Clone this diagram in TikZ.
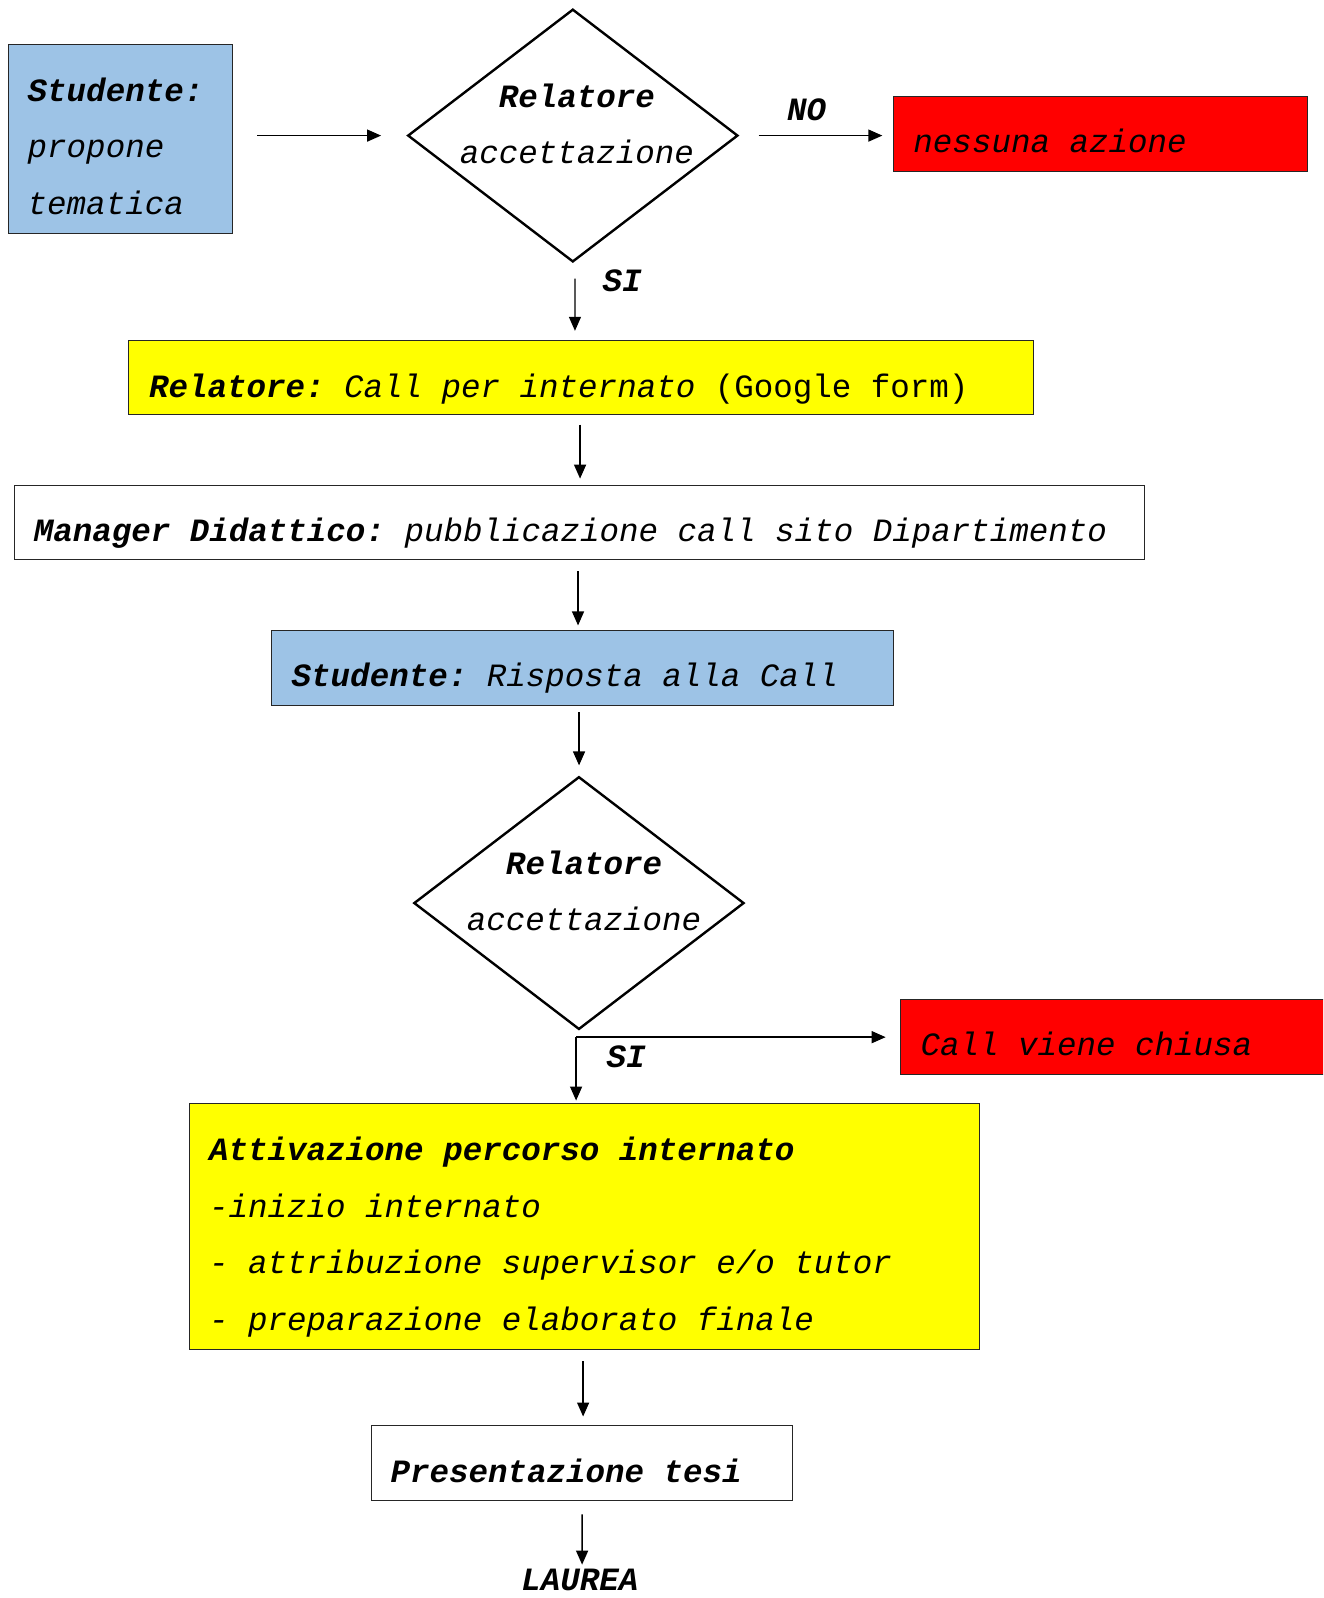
\documentclass[tikz,border=0pt]{standalone}
\usepackage{fontspec}
\setmonofont{Liberation Mono}
\usetikzlibrary{shapes.geometric,arrows.meta}
\definecolor{celeste}{HTML}{9DC3E6}
\definecolor{giallo}{HTML}{FFFF00}
\definecolor{rosso}{HTML}{FF0000}
\newcommand{\testo}{\fontsize{31.9}{38}\selectfont\ttfamily}
\tikzset{
  box/.style={draw=black!85,line width=1pt,inner sep=0pt},
  rombo/.style={draw,diamond,line width=2.4pt,inner sep=0pt,minimum width=324,minimum height=248},
  txt/.style={anchor=base west,inner sep=0pt,font=\testo\itshape},
  lbl/.style={anchor=base west,inner sep=0pt,font=\testo\bfseries\itshape},
  freccia/.style={line width=1.4pt,-{Triangle[length=14pt,width=12pt]}}
}
\begin{document}
\begin{tikzpicture}[x=1pt,y=-1pt,scale=1.0193,every node/.append style={transform shape}]
        \path[use as bounding box,clip] (0,0) rectangle (1298,1567.8);
        %% Boxes
        \node[box,fill=celeste,minimum width=220,minimum height=185] (stud) at (118,136.5) {};
        \node[rombo] (rel) at (562,133) {};
        \node[box,fill=rosso,minimum width=406,minimum height=73] (nessuna) at (1080,131.5) {};
        \node[box,fill=giallo,minimum width=888,minimum height=73] (call) at (570,370.5) {};
        \node[box,fill=white,minimum width=1109,minimum height=73] (manager) at (568.5,512.5) {};
        \node[box,fill=celeste,minimum width=611,minimum height=73] (risposta) at (571.5,655.5) {};
        \node[rombo] (relb) at (568,886) {};
        \node[box,fill=rosso,minimum width=457,minimum height=73] (chiusa) at (1111.5,1017.5) {};
        \node[box,fill=giallo,minimum width=775,minimum height=241] (attiva) at (573.5,1203.5) {};
        \node[box,fill=white,minimum width=414,minimum height=73] (tesi) at (571,1435.5) {};
        %% Texts
        \node[lbl] (studA) at (27,100) {Studente:};
        \node[txt] (studB) at (27,155) {propone};
        \node[txt] (studC) at (27,210) {tematica};
        \node[lbl,anchor=base] (relA) at (566,105) {Relatore};
        \node[txt,anchor=base,fill=white,inner sep=1pt] (relB) at (566,160) {accettazione};
        \node[lbl] (no) at (772,118) {NO};
        \node[txt] (nessunaT) at (896,150) {nessuna azione};
        \node[lbl] (si) at (591,286) {SI};
        \node[txt] (callT) at (146,390) {\bfseries Relatore:\mdseries{} Call per internato \upshape(Google form)};
        \node[txt] (managerT) at (33,531) {\bfseries Manager Didattico:\mdseries{} pubblicazione call sito Dipartimento};
        \node[txt] (rispostaT) at (286,674) {\bfseries Studente:\mdseries{} Risposta alla Call};
        \node[lbl,anchor=base] (relbA) at (573,858) {Relatore};
        \node[txt,anchor=base,fill=white,inner sep=1pt] (relbB) at (573,913) {accettazione};
        \node[txt] (chiusaT) at (903,1036) {Call viene chiusa};
        \node[lbl] (sib) at (595,1047) {SI};
        \node[lbl] (attivaA) at (205,1139) {Attivazione percorso internato};
        \node[txt] (attivaB) at (205,1194) {-inizio internato};
        \node[txt] (attivaC) at (205,1249) {- attribuzione supervisor e/o tutor};
        \node[txt] (attivaD) at (205,1305) {- preparazione elaborato finale};
        \node[lbl] (tesiT) at (383,1454) {Presentazione tesi};
        \node[lbl,anchor=base] (laurea) at (569,1560) {LAUREA};
        %% Arrows
        \draw[freccia] ([xshift=24]stud.east |- rel.west) -- ([xshift=-25]rel.west);
        \draw[freccia] ([xshift=19]rel.east) -- ([xshift=-11]nessuna.west |- rel.east);
        \draw[freccia] ([xshift=2,yshift=-15]rel.south) -- ([xshift=-6,yshift=9]call.north);
        \draw[freccia] ([xshift=-1,yshift=-9]call.south) -- ([xshift=-1,yshift=6]call.south |- manager.north);
        \draw[freccia] ([xshift=-1.5,yshift=-11]manager.south) -- ([xshift=-1.5,yshift=5]manager.south |- risposta.north);
        \draw[freccia] ([yshift=-6]relb.north |- risposta.south) -- ([yshift=10]relb.north);
        \coordinate (bivio) at ([xshift=-3,yshift=-6]relb.south);
        \draw[freccia,shorten >=14pt] (bivio) -- (bivio -| chiusa.west);
        \draw[freccia,shorten >=3pt] (bivio) -- (bivio |- attiva.north);
        \draw[freccia] ([xshift=-1.5,yshift=-11]attiva.south) -- ([xshift=-1.5,yshift=9]attiva.south |- tesi.north);
        \draw[freccia] ([yshift=-13]tesi.south) -- ([xshift=2,yshift=4]laurea.north);
    \end{tikzpicture}
\end{document}
